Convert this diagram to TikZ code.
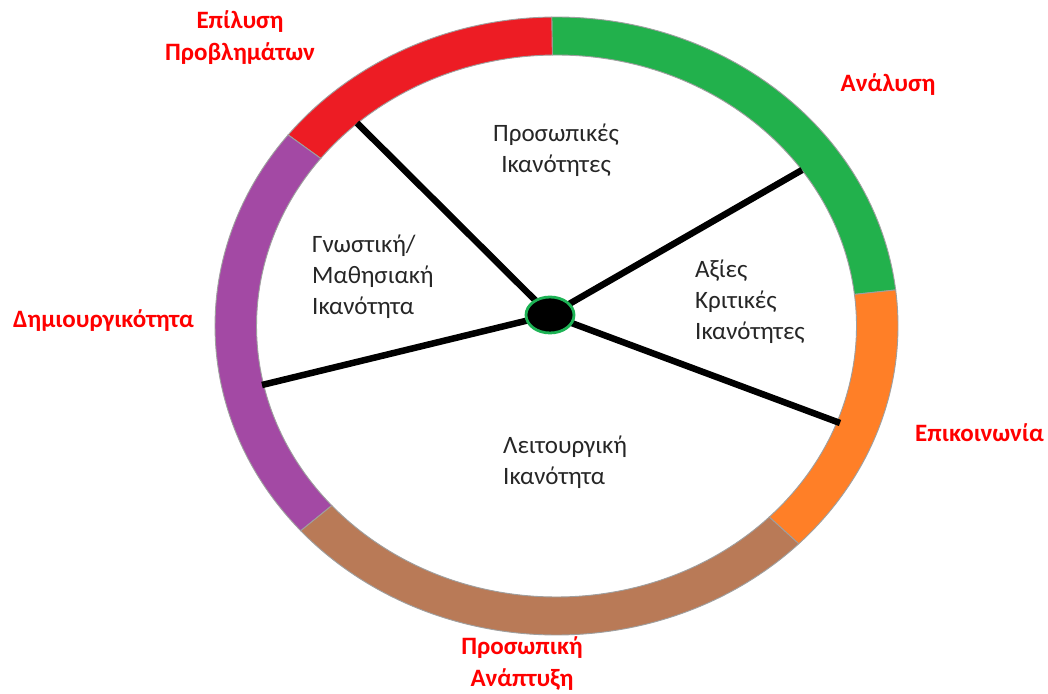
\documentclass[tikz,border=0pt]{standalone}
\usepackage{fontspec}
\setmainfont{Carlito}
\usetikzlibrary{calc,shapes.geometric}

\definecolor{segred}{HTML}{ED1C24}
\definecolor{seggreen}{HTML}{22B14C}
\definecolor{segorange}{HTML}{FF7F27}
\definecolor{segbrown}{HTML}{B97A57}
\definecolor{segpurple}{HTML}{A349A4}
\definecolor{labelred}{HTML}{FF0000}
\definecolor{textgray}{HTML}{262626}
\definecolor{hubgreen}{HTML}{1DB355}

\tikzset{
  segment/.style={draw=gray!75, line width=0.9pt},
  spoke/.style={line width=6.5pt, black},
  hub/.style={ellipse, fill=black, draw=hubgreen, line width=2.8pt,
              minimum width=48pt, minimum height=36pt, inner sep=0pt},
  area/.style={text=textgray, inner sep=0pt, font=\fontsize{25}{31}\selectfont},
  skill/.style={text=labelred, inner sep=0pt, font=\bfseries\fontsize{25}{32}\selectfont}
}

% annular sector of the ring between parametric angles #1 and #2
\newcommand{\ringpart}[3]{%
  \filldraw[segment, fill=#3]
    ($(C)+(#1:341.5 and 309)$)
    arc[start angle=#1, end angle=#2, x radius=341.5, y radius=309]
    -- ($(C)+(#2:300 and 271)$)
    arc[start angle=#2, end angle=#1, x radius=300, y radius=271]
    -- cycle;}

\begin{document}
\begin{tikzpicture}[x=1pt, y=1pt]
  \useasboundingbox (0,0) rectangle (1048,693);
  \fill[white] (0,0) rectangle (1048,693);

  \coordinate (C) at (556.5,367);

  % coloured ring
  \ringpart{6.7}{90.8}{seggreen}
  \ringpart{90.8}{141.8}{segred}
  \ringpart{141.8}{221.5}{segpurple}
  \ringpart{221.5}{315.2}{segbrown}
  \ringpart{315.2}{366.7}{segorange}

  % spokes
  \coordinate (H) at (550,378);
  \coordinate (s1) at (357,570);
  \coordinate (s2) at (802,523);
  \coordinate (s3) at (840,270);
  \coordinate (s4) at (262,308);
  \foreach \s in {s1,s2,s3,s4} \draw[spoke] (H) -- (\s);

  \node[hub] (hub) at (H) {};

  % inner areas (base = baseline of the last line)
  \node[area, align=center, anchor=base] (personal) at (556,520)
    {Προσωπικές\\Ικανότητες};
  \node[area, align=left, anchor=base west] (cognitive) at (312,378)
    {Γνωστική/\\Μαθησιακή\\Ικανότητα};
  \node[area, align=left, anchor=base west] (values) at (695,353)
    {Αξίες\\Κριτικές\\Ικανότητες};
  \node[area, align=left, anchor=base west] (functional) at (503,208)
    {Λειτουργική\\Ικανότητα};

  % ring labels
  \node[skill, align=center, anchor=base] (problems) at (240,632)
    {Επίλυση\\Προβλημάτων};
  \node[skill, anchor=base] (analysis) at (888,601) {Ανάλυση};
  \node[skill, anchor=base west] (creativity) at (13,365) {Δημιουργικότητα};
  \node[skill, anchor=base west] (communication) at (915,251) {Επικοινωνία};
  \node[skill, align=center, anchor=base] (development) at (522,7)
    {Προσωπική\\Ανάπτυξη};
\end{tikzpicture}
\end{document}
